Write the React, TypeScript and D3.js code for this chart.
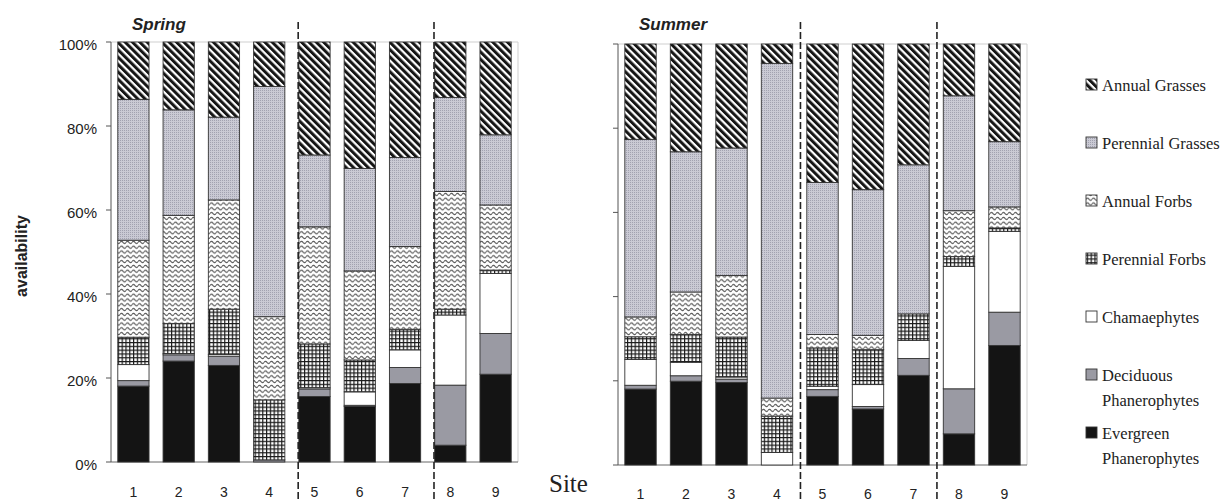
import React from "react";
import * as d3 from "d3";

// sites on the x axis
const sites = ["1", "2", "3", "4", "5", "6", "7", "8", "9"];

// stacking order, bottom to top
const categories = [
  "Evergreen Phanerophytes",
  "Deciduous Phanerophytes",
  "Chamaephytes",
  "Perennial Forbs",
  "Annual Forbs",
  "Perennial Grasses",
  "Annual Grasses",
];

// Spring (% availability)
const springEvergreen = [18, 24.1, 23, 0, 15.6, 13.2, 18.7, 4, 20.9];
const springDeciduous = [1.3, 1.5, 2.2, 0.5, 1.8, 0.3, 3.8, 14.3, 9.7];
const springChamaephytes = [3.8, 0.3, 0.4, 0, 0.3, 3.2, 4.2, 16.7, 14.3];
const springPerForbs = [6.5, 7.2, 10.8, 14.3, 10.4, 7.6, 4.9, 1.4, 0.8];
const springAnnForbs = [23, 25.8, 26, 19.8, 27.9, 21.2, 19.7, 28, 15.5];
const springPerGrasses = [33.4, 25.2, 19.7, 54.8, 17.1, 24.4, 21.2, 22.4, 16.7];
const springAnnGrasses = [13.6, 16.2, 17.9, 10.6, 26.9, 30.1, 27.5, 13.2, 22.1];

// Summer (% availability)
const summerEvergreen = [18, 19.9, 19.6, 0, 16.3, 13.3, 21.3, 7.4, 28.4];
const summerDeciduous = [0.9, 1.3, 0.8, 0, 1.6, 0.6, 4, 10.7, 7.9];
const summerChamaephytes = [6.1, 3.2, 0.5, 3, 0.8, 5.2, 4.3, 29.1, 19.2];
const summerPerForbs = [5.4, 6.6, 9.5, 8.6, 9.1, 8.3, 6.3, 2.3, 0.8];
const summerAnnForbs = [4.7, 10.1, 14.6, 4.3, 3.2, 3.4, 0, 10.9, 5];
const summerPerGrasses = [42.1, 33.3, 30.3, 79.5, 36.1, 34.6, 35.4, 27.3, 15.5];
const summerAnnGrasses = [22.6, 25.6, 24.7, 4.6, 32.9, 34.6, 28.7, 12.3, 23.2];

const yTicks = [0, 0.2, 0.4, 0.6, 0.8, 1];

// legend, top to bottom
const legendKeys = [
  "Annual Grasses",
  "Perennial Grasses",
  "Annual Forbs",
  "Perennial Forbs",
  "Chamaephytes",
  "Deciduous Phanerophytes",
  "Evergreen Phanerophytes",
];
const legendLines = [
  ["Annual Grasses"],
  ["Perennial Grasses"],
  ["Annual Forbs"],
  ["Perennial Forbs"],
  ["Chamaephytes"],
  ["Deciduous", "Phanerophytes"],
  ["Evergreen", "Phanerophytes"],
];

// site groups are separated after site 4 and site 7
const dividerSites = ["5", "8"];

const fills: Record<string, string> = {
  "Annual Grasses": "url(#pat-stripes)",
  "Perennial Grasses": "url(#pat-dots)",
  "Annual Forbs": "url(#pat-wavy)",
  "Perennial Forbs": "url(#pat-grid)",
  Chamaephytes: "#ffffff",
  "Deciduous Phanerophytes": "#9a9aa3",
  "Evergreen Phanerophytes": "#141414",
};

const toTable = (cols: number[][]) =>
  sites.map((s, i) => {
    const row: any = { site: s };
    categories.forEach((c, j) => (row[c] = cols[j][i]));
    return row;
  });

const springData = toTable([
  springEvergreen, springDeciduous, springChamaephytes, springPerForbs,
  springAnnForbs, springPerGrasses, springAnnGrasses,
]);
const summerData = toTable([
  summerEvergreen, summerDeciduous, summerChamaephytes, summerPerForbs,
  summerAnnForbs, summerPerGrasses, summerAnnGrasses,
]);

const SANS = "'Liberation Sans', Arial, sans-serif";
const SERIF = "'Liberation Serif', 'Times New Roman', serif";

type PanelProps = {
  title: string;
  data: any[];
  left: number;
  right: number;
  top: number;
  bottom: number;
  showYLabels: boolean;
  dividerShift: number; // where the dashed line sits inside the gap (0..1)
  labelY: number;
};

const Panel = ({ title, data, left, right, top, bottom, showYLabels, dividerShift, labelY }: PanelProps) => {
  const x = d3.scaleBand<string>().domain(sites).range([left, right]).paddingInner(0.31).paddingOuter(0.15);
  const y = d3.scaleLinear().domain([0, 1]).range([bottom, top]);
  const series = d3.stack<any>().keys(categories).offset(d3.stackOffsetExpand)(data);
  const gap = x.step() - x.bandwidth();

  return (
    <g>
      {/* plot frame */}
      <line x1={left} x2={right} y1={top} y2={top} stroke="#cfcfcf" />
      <line x1={right} x2={right} y1={top} y2={bottom} stroke="#cfcfcf" />
      <line x1={left} x2={right} y1={bottom} y2={bottom} stroke="#666" />
      <line x1={left} x2={left} y1={top} y2={bottom} stroke="#555" />
      {yTicks.map((t) => (
        <g key={t}>
          <line x1={left - 5} x2={left} y1={y(t)} y2={y(t)} stroke="#555" />
          {showYLabels && (
            <text x={left - 14} y={y(t) + 8} textAnchor="end" fontFamily={SANS} fontSize={15} fill="#222">
              {d3.format(".0%")(t)}
            </text>
          )}
        </g>
      ))}

      {series.map((s) => (
        <g key={s.key}>
          {s.map((d, i) => {
            const h = y(d[0]) - y(d[1]);
            if (h <= 0) return null;
            return (
              <rect
                key={i}
                x={x(d.data.site)}
                y={y(d[1])}
                width={x.bandwidth()}
                height={h}
                fill={fills[s.key]}
                stroke="#333"
                strokeWidth={0.9}
              />
            );
          })}
        </g>
      ))}

      {sites.map((s) => (
        <text key={s} x={(x(s) as number) + x.bandwidth() / 2} y={labelY} textAnchor="middle" fontFamily={SANS} fontSize={14} fill="#222">
          {s}
        </text>
      ))}

      {dividerSites.map((s) => {
        const dx = (x(s) as number) - gap * (1 - dividerShift);
        return (
          <line key={s} x1={dx} x2={dx} y1={22} y2={502} stroke="#222" strokeWidth={1.6} strokeDasharray="7 3" />
        );
      })}

      <text x={left + 21} y={30} fontFamily={SANS} fontSize={17} fontWeight="bold" fontStyle="italic" fill="#222">
        {title}
      </text>
    </g>
  );
};

const Patterns = () => (
  <defs>
    <pattern id="pat-stripes" patternUnits="userSpaceOnUse" width={5.2} height={5.2} patternTransform="rotate(-45)">
      <rect width={5.2} height={5.2} fill="#ffffff" />
      <rect width={3} height={5.2} fill="#151515" />
    </pattern>
    <pattern id="pat-dots" patternUnits="userSpaceOnUse" width={2} height={2}>
      <rect width={2} height={2} fill="#cacad4" />
      <rect width={1} height={1} fill="#a2a2b0" />
    </pattern>
    <pattern id="pat-wavy" patternUnits="userSpaceOnUse" width={6} height={4.8}>
      <rect width={6} height={4.8} fill="#ffffff" />
      <path d="M0 2.4 Q1.5 0.3 3 2.4 T6 2.4" fill="none" stroke="#555" strokeWidth={1.2} />
    </pattern>
    <pattern id="pat-grid" patternUnits="userSpaceOnUse" width={3.8} height={3.8}>
      <rect width={3.8} height={3.8} fill="#ffffff" />
      <path d="M0 0.6 H3.8 M0.6 0 V3.8" fill="none" stroke="#1a1a1a" strokeWidth={1.2} />
    </pattern>
  </defs>
);

const Legend = () => {
  const ly = d3.scalePoint<string>().domain(legendKeys).range([85, 433]);
  return (
    <g>
      {legendKeys.map((k, i) => {
        const cy = ly(k) as number;
        return (
          <g key={k}>
            <rect x={1086} y={cy - 6} width={11} height={11} fill={fills[k]} stroke="#333" strokeWidth={0.9} />
            {legendLines[i].map((ln, j) => (
              <text key={j} x={1102} y={cy + 5.5 + j * 25} fontFamily={SERIF} fontSize={16.5} fill="#222">
                {ln}
              </text>
            ))}
          </g>
        );
      })}
    </g>
  );
};

export default function App() {
  return (
    <svg
      width={1225}
      height={502}
      style={{ position: "absolute", left: 0, top: 0, background: "#fff", display: "block" }}
    >
      <Patterns />
      <rect width={1225} height={502} fill="#ffffff" />
      <Panel
        title="Spring"
        data={springData}
        left={111}
        right={518}
        top={42}
        bottom={462}
        showYLabels
        dividerShift={0.95}
        labelY={497}
      />
      <Panel
        title="Summer"
        data={summerData}
        left={618}
        right={1027}
        top={44}
        bottom={465}
        showYLabels={false}
        dividerShift={0.55}
        labelY={499}
      />
      <text
        transform="translate(27,256) rotate(-90)"
        textAnchor="middle"
        fontFamily={SANS}
        fontSize={16}
        fontWeight="bold"
        fill="#222"
      >
        availability
      </text>
      <text x={549} y={492} fontFamily={SERIF} fontSize={25} fill="#222">
        Site
      </text>
      <Legend />
    </svg>
  );
}
